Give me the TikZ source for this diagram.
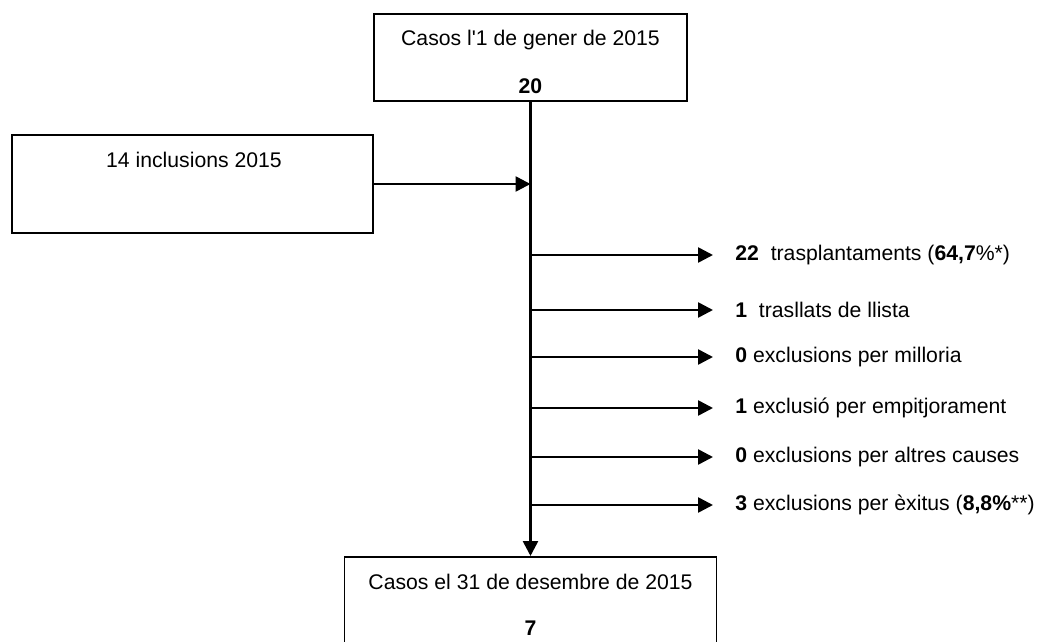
\documentclass[tikz,border=0pt]{standalone}
\usepackage{fontspec}
\setmainfont{Liberation Sans}
\usetikzlibrary{arrows.meta}

\begin{document}
\begin{tikzpicture}[
    x=0.5pt, y=-0.5pt,
    box/.style={
        draw,
        line width=0.75pt,
        inner sep=0pt
    },
    box text/.style={
        font=\fontsize{10.6}{12}\selectfont,
        inner sep=0pt
    },
    flow/.style={
        -{Triangle[length=7.5pt,width=7.5pt]},
        line width=1.3pt
    },
    outcome/.style={
        anchor=west,
        font=\fontsize{10.6}{12}\selectfont,
        inner xsep=11pt,
        inner ysep=0pt
    }
]

\clip (0,0) rectangle (1041,642);

\def\spinex{530.5}

%% --- Casos inicials ---
\node[box, minimum width=156.5pt, minimum height=43.5pt] (start) at (\spinex,57.5) {};
\node[box text] (startT) at (\spinex,40) {Casos l\textquotesingle 1 de gener de 2015};
\node[box text] (startN) at (\spinex,86) {\textbf{20}};

%% --- Inclusions ---
\node[box, minimum width=180.5pt, minimum height=49pt] (incl) at (192.5,184) {};
\node[box text] (inclT) at (194,160) {14 inclusions 2015};

%% --- Casos finals ---
\node[box, minimum width=186pt, minimum height=75pt, anchor=north] (end) at (\spinex,556) {};
\node[box text] (endT) at (\spinex,582) {Casos el 31 de desembre de 2015};
\node[box text] (endN) at (\spinex,628) {\textbf{7}};

%% --- Eix vertical ---
\coordinate (join) at (\spinex,184);
\draw[flow] (start.south) -- (end.north);
\draw[flow] (incl.east) -- (join);

%% --- Sortides ---
\foreach \y/\name/\txt in {
    255/trasp/{\textbf{22}\ \ trasplantaments (\textbf{64,7}\%*)},
    310/trasl/{\textbf{1}\ \ trasllats de llista},
    357/mill/{\textbf{0} exclusions per milloria},
    408/empit/{\textbf{1} exclusió per empitjorament},
    457/altres/{\textbf{0} exclusions per altres causes},
    505/exit/{\textbf{3} exclusions per èxitus (\textbf{8,8\%}**)}} {
    \coordinate (b-\name) at (\spinex,\y);
    \node[outcome] (o-\name) at (713,\y) {\txt};
    \draw[flow] (b-\name) -- (o-\name.west);
}

\end{tikzpicture}
\end{document}
